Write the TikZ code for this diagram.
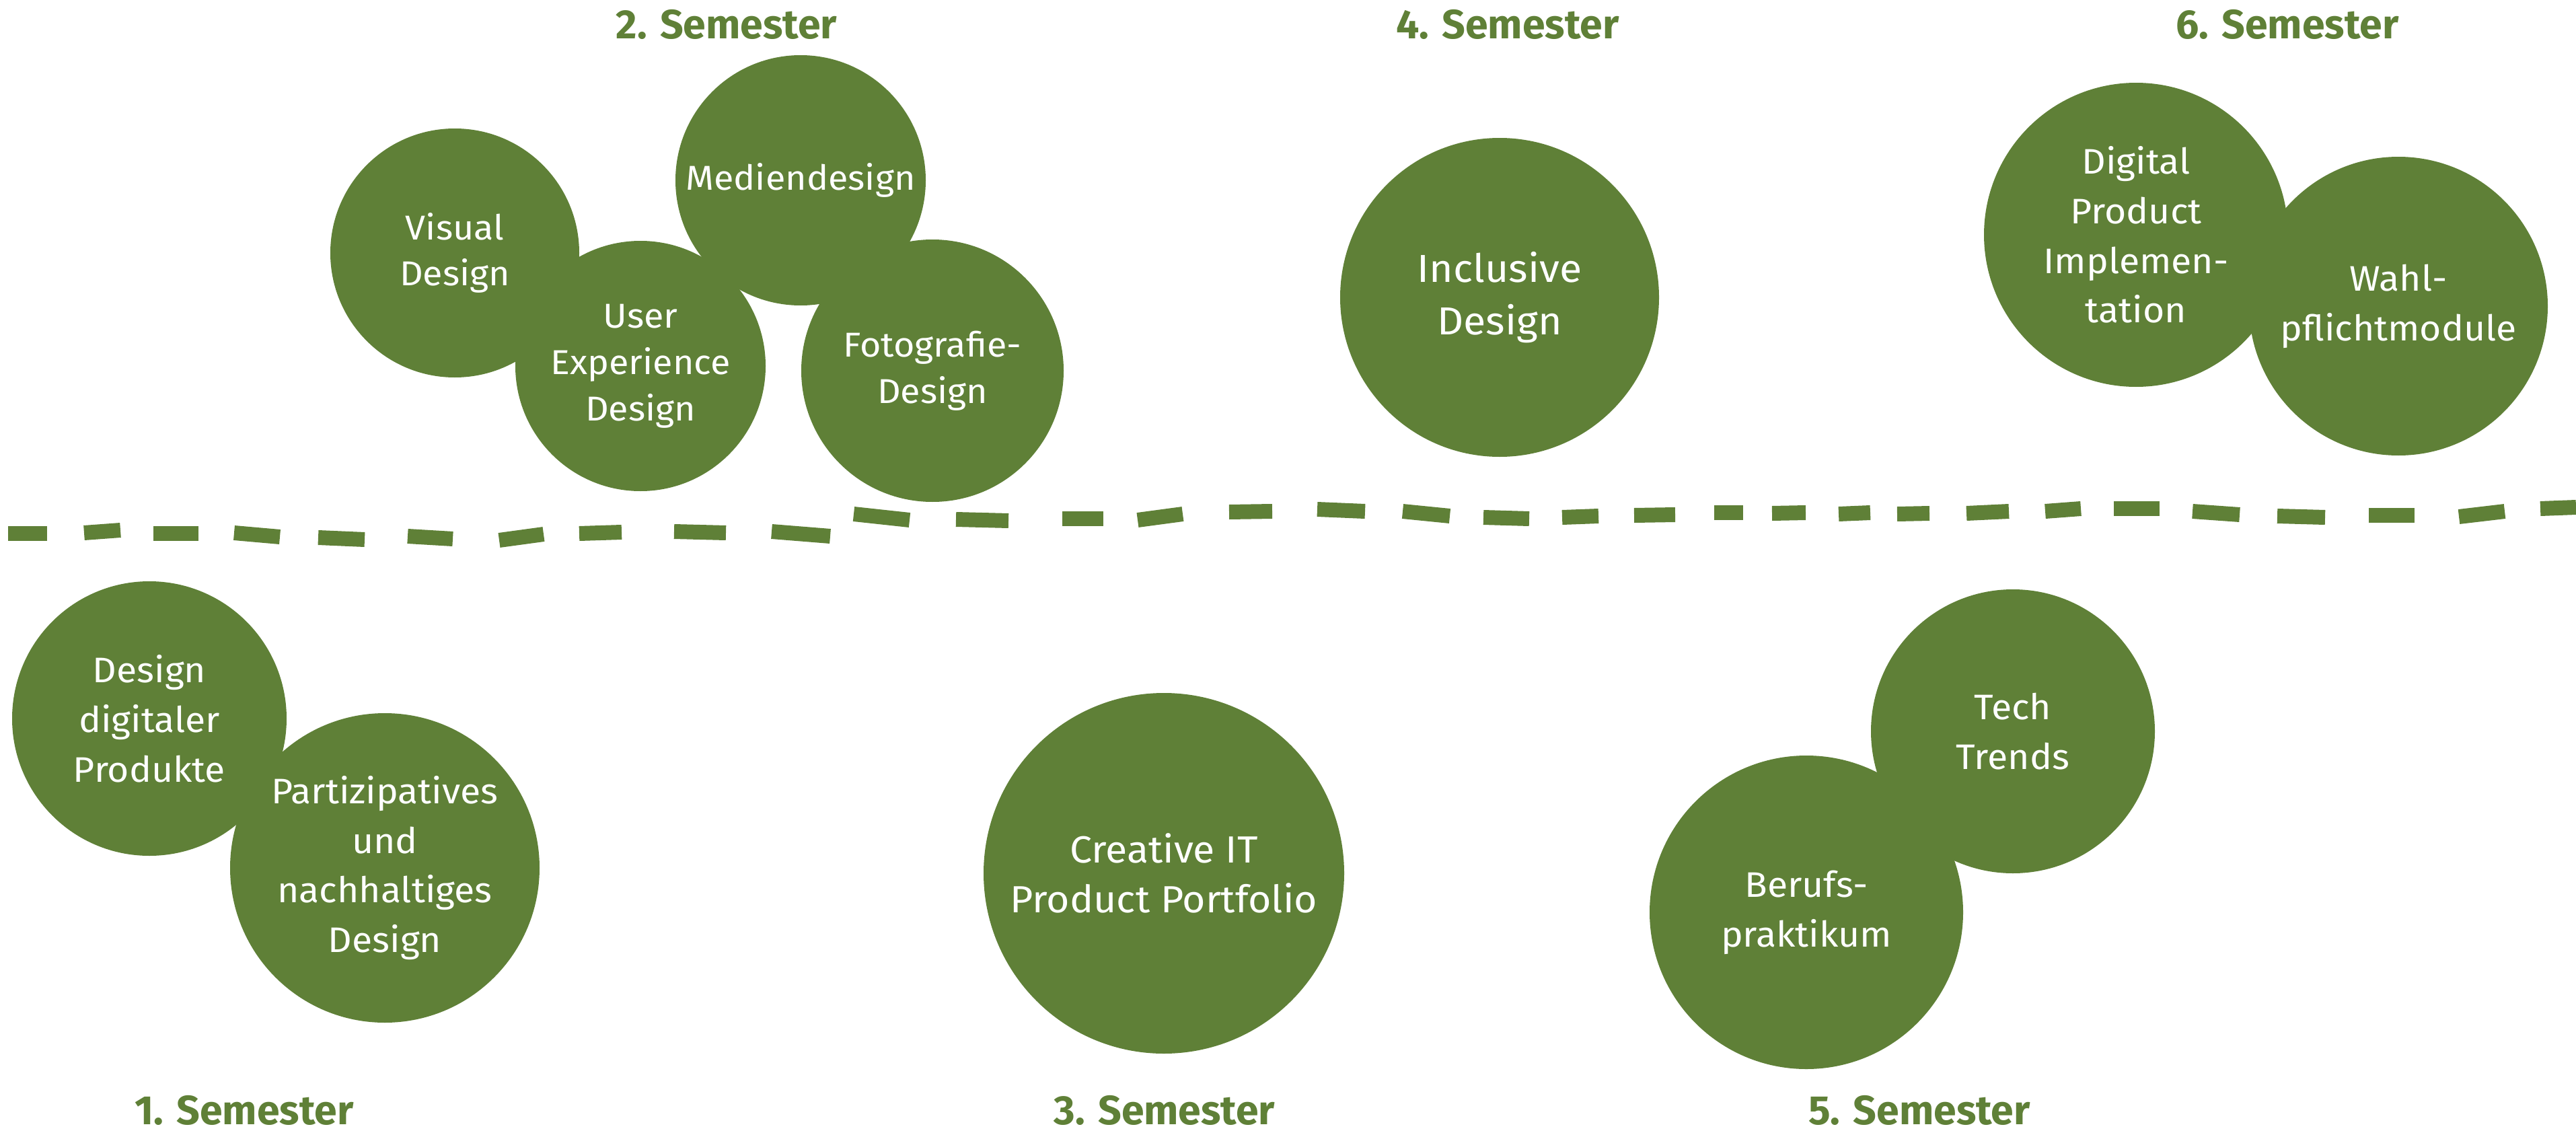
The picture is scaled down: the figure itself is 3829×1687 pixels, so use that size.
\documentclass[tikz,border=0pt]{standalone}
\usepackage{fontspec}
\setmainfont[FakeStretch=1.05]{Fira Sans}
\newfontfamily\headfont{Fira Sans}
\definecolor{moss}{RGB}{95,128,55}
\tikzset{
  course/.style={circle, fill=moss, text=white, inner sep=0pt, align=center,
    font=\fontsize{15}{21}\selectfont},
  semester/.style={anchor=base, inner sep=0pt, text=moss, font=\headfont\bfseries\fontsize{17.3}{20}\selectfont},
  dashseg/.style={draw=moss, line width=2.2mm, line cap=butt},
}
\begin{document}
\begin{tikzpicture}[x=0.1mm, y=-0.1mm]

    \useasboundingbox (0,0) rectangle (3829,1687);

    % Semester titles
    \node[semester] (s2) at (1080,58) {2. Semester};
    \node[semester] (s4) at (2241,58) {4. Semester};
    \node[semester] (s6) at (3400,58) {6. Semester};
    \node[semester] (s1) at (363,1671) {1. Semester};
    \node[semester] (s3) at (1731,1671) {3. Semester};
    \node[semester] (s5) at (2853,1671) {5. Semester};

    % 2. Semester
    \node[course, minimum size=37mm, font=\fontsize{14.6}{19.6}\selectfont] (vis) at (676,376) {Visual\\Design};
    \node[course, minimum size=37.2mm, font=\fontsize{14.6}{19.6}\selectfont] (med) at (1190,268) {Mediendesign};
    \node[course, minimum size=37.2mm, font=\fontsize{14.6}{19.6}\selectfont] (ux) at (952,544) {User\\Experience\\Design};
    \node[course, minimum size=39mm, font=\fontsize{14.6}{19.6}\selectfont] (foto) at (1386,551) {Fotografie-\\Design};

    % 4. Semester
    \node[course, minimum size=47.4mm, font=\fontsize{16.5}{22.2}\selectfont] (incl) at (2229,442) {Inclusive\\Design};

    % 6. Semester
    \node[course, minimum size=45.2mm] (digi) at (3175,349) {Digital\\Product\\Implemen-\\tation};
    \node[course, minimum size=44.4mm] (wahl) at (3565,455) {Wahl-\\pflichtmodule};

    % 1. Semester
    \node[course, minimum size=40.8mm] (ddp) at (222,1068) {Design\\digitaler\\Produkte};
    \node[course, minimum size=46mm] (part) at (572,1290) {Partizipatives\\und\\nachhaltiges\\Design};

    % 3. Semester
    \node[course, minimum size=53.6mm, font=\fontsize{16}{21}\selectfont] (crea) at (1730,1298) {Creative IT\\Product Portfolio};

    % 5. Semester
    \node[course, minimum size=42.2mm] (tech) at (2992,1087) {Tech\\Trends};
    \node[course, minimum size=46.6mm] (beruf) at (2685,1356) {Berufs-\\praktikum};

    % Hand drawn separator
    \foreach \xa/\xb/\ya/\yb in {12/70/793/793, 125/179/792/788, 228/295/793/793,
        348/416/792/798, 473/542/799/802, 606/673/797/801, 742/808/803/794,
        861/924/793/791, 1002/1079/790/792, 1147/1234/790/797, 1269/1352/764/773,
        1421/1499/772/774, 1579/1640/771/771, 1691/1758/773/764, 1827/1891/761/760,
        1958/2029/757/760, 2085/2155/760/767, 2205/2273/769/771, 2322/2376/769/767,
        2429/2490/766/765, 2548/2591/762/762, 2634/2684/763/762, 2733/2780/764/762,
        2820/2868/764/763, 2923/2986/763/760, 3040/3093/760/756, 3142/3210/756/756,
        3259/3329/760/765, 3385/3456/767/769, 3521/3589/766/766, 3655/3723/768/760,
        3776/3829/756/754}
        \draw[dashseg] (\xa,\ya) -- (\xb,\yb);

\end{tikzpicture}
\end{document}
